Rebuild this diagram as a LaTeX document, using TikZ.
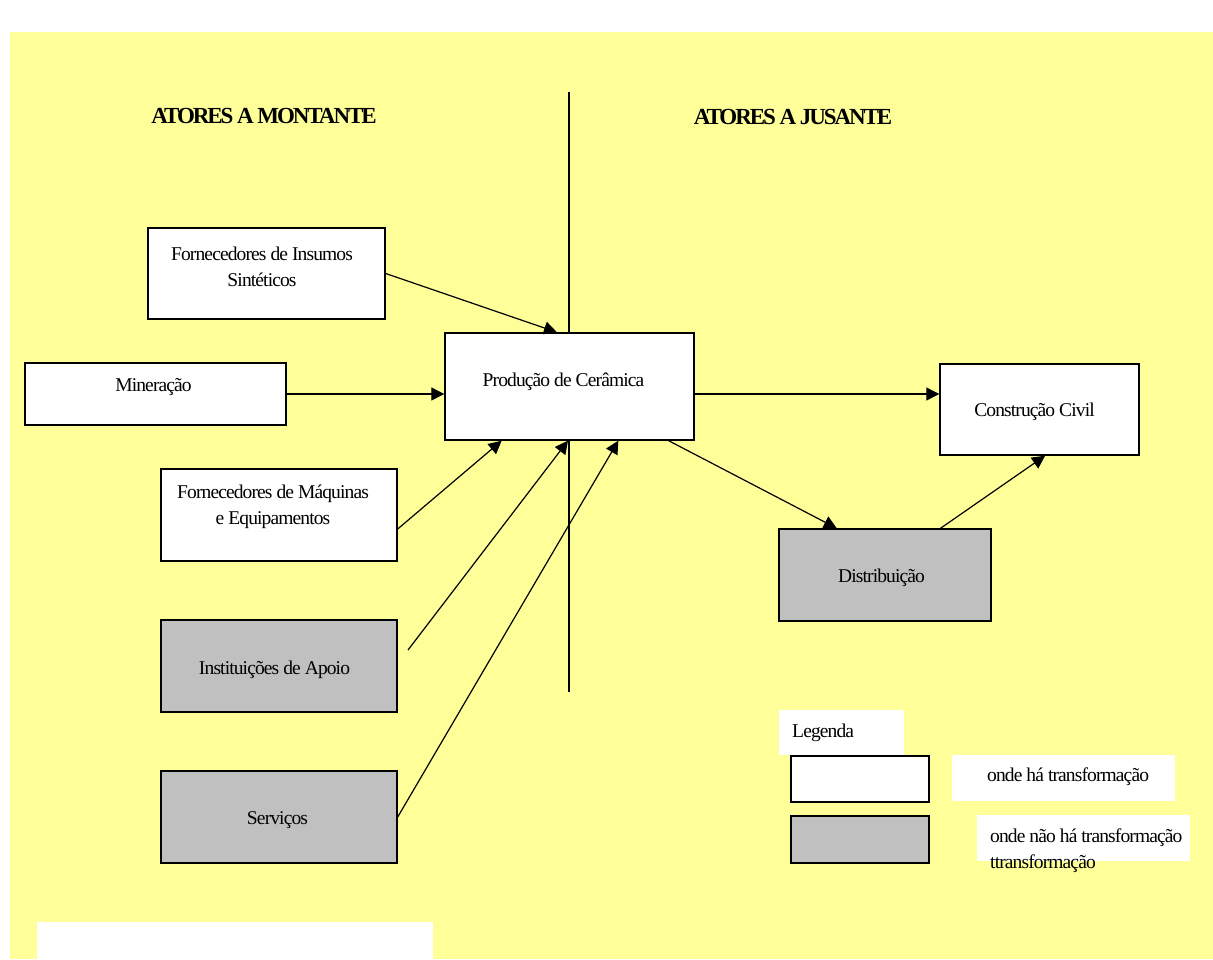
\documentclass[tikz,border=0pt]{standalone}
\usepackage{fontspec}
\usetikzlibrary{arrows.meta,calc}
\newfontfamily\bodyfont[LetterSpace=-4.5]{Liberation Serif}
\newfontfamily\headfont[LetterSpace=-9]{Liberation Serif}
\definecolor{bgyellow}{HTML}{FFFF99}
\definecolor{boxgrey}{HTML}{C0C0C0}
\tikzset{
  box/.style={draw=black, line width=1.4pt, fill=white, rectangle, inner sep=0pt},
  greybox/.style={box, fill=boxgrey},
  txt/.style={font=\bodyfont\fontsize{19.5}{26}\selectfont, inner sep=0pt},
  head/.style={font=\headfont\bfseries\fontsize{23}{26}\selectfont, inner sep=0pt},
  arr/.style={line width=1.2pt, -{Triangle[length=13pt,width=13pt]}},
  axisline/.style={line width=1.3pt},
  patch/.style={fill=white, draw=none}
}
\begin{document}
\begin{tikzpicture}[x=1pt,y=-1pt]
\useasboundingbox (0,0) rectangle (1213,959);
% page background
\fill[bgyellow] (10,32) rectangle (1213,959);
\fill[white] (37,922) rectangle (433,959);

% headings
\node[head] (hup) at (264,116) {ATORES A MONTANTE};
\node[head] (hdown) at (793,117) {ATORES A JUSANTE};

% dividing axis
\coordinate (vtop) at (569,92);
\coordinate (vbot) at (569,692);
\draw[axisline] (vtop) -- (vbot);

% upstream actors (multi-line labels are placed by the baseline of their last line)
\node[box, minimum width=237pt, minimum height=91pt] (ins) at (266.5,273.5) {};
\node[txt, align=center, anchor=base] (inst1) at (262,286) {Fornecedores de Insumos\\Sintéticos};

\node[box, minimum width=261pt, minimum height=62pt] (min) at (155.5,394) {};
\node[txt] (mint) at (153.5,387) {Mineração};

\node[box, minimum width=236pt, minimum height=92pt] (maq) at (279,515) {};
\node[txt, align=center, anchor=base] (maqt) at (273,524) {Fornecedores de Máquinas\\e Equipamentos};

\node[greybox, minimum width=236pt, minimum height=92pt] (inst) at (279,666) {};
\node[txt] (instt) at (274.5,670) {Instituições de Apoio};

\node[greybox, minimum width=236pt, minimum height=92pt] (serv) at (279,817) {};
\node[txt] (servt) at (277.5,820) {Serviços};

% core activity
\node[box, minimum width=249pt, minimum height=107pt] (prod) at (569.5,386.5) {};
\node[txt] (prodt) at (563.5,382) {Produção de Cerâmica};

% downstream actors
\node[box, minimum width=199pt, minimum height=91pt] (cc) at (1039.5,409.5) {};
\node[txt] (cct) at (1034.5,412) {Construção Civil};

\node[greybox, minimum width=212pt, minimum height=92pt] (dist) at (885,575) {};
\node[txt] (distt) at (881.5,578) {Distribuição};

% flows into production
\coordinate (instfrom) at (408,650);
\draw[arr] (ins.east) -- ($(prod.north west)!0.45!(prod.north east)$);
\draw[arr] (min.east) -- (min.east -| prod.west);
\draw[arr] ([yshift=-14pt]maq.east) -- ($(prod.south west)!0.229!(prod.south east)$);
\draw[arr] (instfrom) -- ($(prod.south west)!0.494!(prod.south east)$);
\draw[arr] (serv.east) -- ($(prod.south west)!0.695!(prod.south east)$);

% flows out of production
\draw[arr] (prod.east |- min.east) -- (cc.west |- min.east);
\draw[arr] ($(prod.south west)!0.896!(prod.south east)$) -- ($(dist.north west)!0.274!(dist.north east)$);
\draw[arr] ($(dist.north west)!0.76!(dist.north east)$) -- ($(cc.south west)!0.528!(cc.south east)$);

% legend
\fill[patch] (779,710) rectangle (904,755);
\node[txt, anchor=west] (legt) at (792,733) {Legenda};
\node[box, minimum width=138pt, minimum height=46pt] (legw) at (860,779) {};
\node[greybox, minimum width=138pt, minimum height=47pt] (legg) at (860,839.5) {};
\fill[patch] (952,755) rectangle (1175,801);
\node[txt, anchor=west] (legwt) at (987,777) {onde há transformação};
\fill[patch] (977,815) rectangle (1190,861);
\node[txt, align=left, anchor=base west] (leggt) at (990,868) {onde não há transformação\\ttransformação};
\end{tikzpicture}
\end{document}
